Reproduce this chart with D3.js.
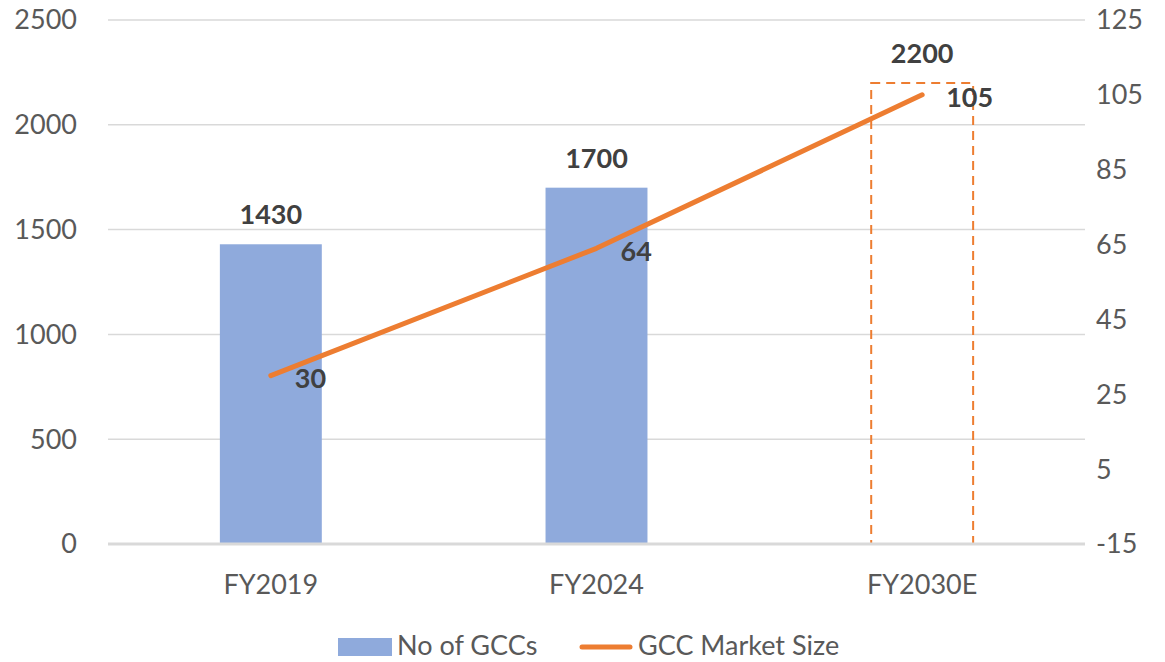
<!DOCTYPE html>
<html>
<head>
<meta charset="utf-8">
<script src="https://cdn.jsdelivr.net/npm/d3@7"></script>
<style>
  body { margin: 0; background: #fff; }
  text { font-family: Lato, "Open Sans", sans-serif; }
</style>
</head>
<body>
<div id="chart"></div>
<script>
var chart_width  = 1165;
var chart_height = 662;

// data
var categories   = ["FY2019", "FY2024", "FY2030E"];
var gccCount     = [1430, 1700, 2200];
var marketSize   = [30, 64, 105];
var estimated    = [false, false, true];
var leftTicks    = [0, 500, 1000, 1500, 2000, 2500];
var rightTicks   = [-15, 5, 25, 45, 65, 85, 105, 125];

var plot = { left: 108, right: 1085, top: 20, bottom: 544 };

var x = d3.scaleBand()
  .domain(categories)
  .range([plot.left, plot.right])
  .paddingInner(0.687)
  .paddingOuter(0.3435);

var yLeft = d3.scaleLinear()
  .domain([0, 2500])
  .range([plot.bottom, plot.top]);

var yRight = d3.scaleLinear()
  .domain([-15, 125])
  .range([plot.bottom, plot.top]);

var svg = d3.select("#chart")
  .append("svg")
  .attr("width", chart_width)
  .attr("height", chart_height);

// gridlines
svg.append("g")
  .selectAll("line")
  .data(leftTicks)
  .enter()
  .append("line")
  .attr("x1", plot.left)
  .attr("x2", plot.right)
  .attr("y1", function(d){ return yLeft(d); })
  .attr("y2", function(d){ return yLeft(d); })
  .style("stroke", "#d9d9d9")
  .style("stroke-width", 1.5);

// left axis labels
svg.append("g")
  .selectAll("text")
  .data(leftTicks)
  .enter()
  .append("text")
  .attr("x", 77)
  .attr("y", function(d){ return yLeft(d); })
  .attr("dy", "0.35em")
  .attr("text-anchor", "end")
  .style("font-size", "27px")
  .style("fill", "#595959")
  .text(function(d){ return d; });

// right axis labels
svg.append("g")
  .selectAll("text")
  .data(rightTicks)
  .enter()
  .append("text")
  .attr("x", 1096)
  .attr("y", function(d){ return yRight(d); })
  .attr("dy", "0.35em")
  .attr("text-anchor", "start")
  .style("font-size", "27px")
  .style("fill", "#595959")
  .text(function(d){ return d; });

// category labels
svg.append("g")
  .selectAll("text")
  .data(categories)
  .enter()
  .append("text")
  .attr("x", function(d){ return x(d) + x.bandwidth() / 2; })
  .attr("y", 585)
  .attr("dy", "0.35em")
  .attr("text-anchor", "middle")
  .style("font-size", "27px")
  .style("fill", "#595959")
  .text(function(d){ return d; });

var rows = categories.map(function(c, i){
  return { cat: c, count: gccCount[i], size: marketSize[i], est: estimated[i] };
});

// bars
svg.append("g")
  .selectAll("rect")
  .data(rows)
  .enter()
  .append("rect")
  .attr("x", function(d){ return x(d.cat); })
  .attr("y", function(d){ return yLeft(d.count); })
  .attr("width", x.bandwidth())
  .attr("height", function(d){ return yLeft(0) - yLeft(d.count); })
  .style("fill", function(d){ return d.est ? "none" : "#8faadc"; })
  .style("stroke", function(d){ return d.est ? "#ed7d31" : "none"; })
  .style("stroke-width", 2)
  .style("stroke-dasharray", function(d){ return d.est ? "9,6" : null; });

// baseline drawn over the bars
svg.append("line")
  .attr("x1", plot.left)
  .attr("x2", plot.right)
  .attr("y1", yLeft(0))
  .attr("y2", yLeft(0))
  .style("stroke", "#d9d9d9")
  .style("stroke-width", 3);

// bar labels
svg.append("g")
  .selectAll("text")
  .data(rows)
  .enter()
  .append("text")
  .attr("x", function(d){ return x(d.cat) + x.bandwidth() / 2; })
  .attr("y", function(d){ return yLeft(d.count) - 20; })
  .attr("text-anchor", "middle")
  .style("font-size", "27px")
  .style("font-weight", "bold")
  .style("fill", "#404040")
  .text(function(d){ return d.count; });

// line
var line = d3.line()
  .x(function(d){ return x(d.cat) + x.bandwidth() / 2; })
  .y(function(d){ return yRight(d.size); });

svg.append("path")
  .datum(rows)
  .attr("d", line)
  .style("fill", "none")
  .style("stroke", "#ed7d31")
  .style("stroke-width", 5)
  .style("stroke-linecap", "round")
  .style("stroke-linejoin", "round");

// line labels
svg.append("g")
  .selectAll("text")
  .data(rows)
  .enter()
  .append("text")
  .attr("x", function(d){ return x(d.cat) + x.bandwidth() / 2 + 24; })
  .attr("y", function(d){ return yRight(d.size) + 3; })
  .attr("dy", "0.35em")
  .style("font-size", "27px")
  .style("font-weight", "bold")
  .style("fill", "#404040")
  .text(function(d){ return d.size; });

// legend
var legend = svg.append("g");
legend.append("rect")
  .attr("x", 338).attr("y", 638)
  .attr("width", 54).attr("height", 18)
  .style("fill", "#8faadc");
legend.append("text")
  .attr("x", 397).attr("y", 646).attr("dy", "0.35em")
  .style("font-size", "27px").style("fill", "#595959")
  .text("No of GCCs");
legend.append("line")
  .attr("x1", 582).attr("x2", 630)
  .attr("y1", 647).attr("y2", 647)
  .style("stroke", "#ed7d31")
  .style("stroke-width", 5)
  .style("stroke-linecap", "round");
legend.append("text")
  .attr("x", 638).attr("y", 646).attr("dy", "0.35em")
  .style("font-size", "27px").style("fill", "#595959")
  .text("GCC Market Size");
</script>
</body>
</html>
